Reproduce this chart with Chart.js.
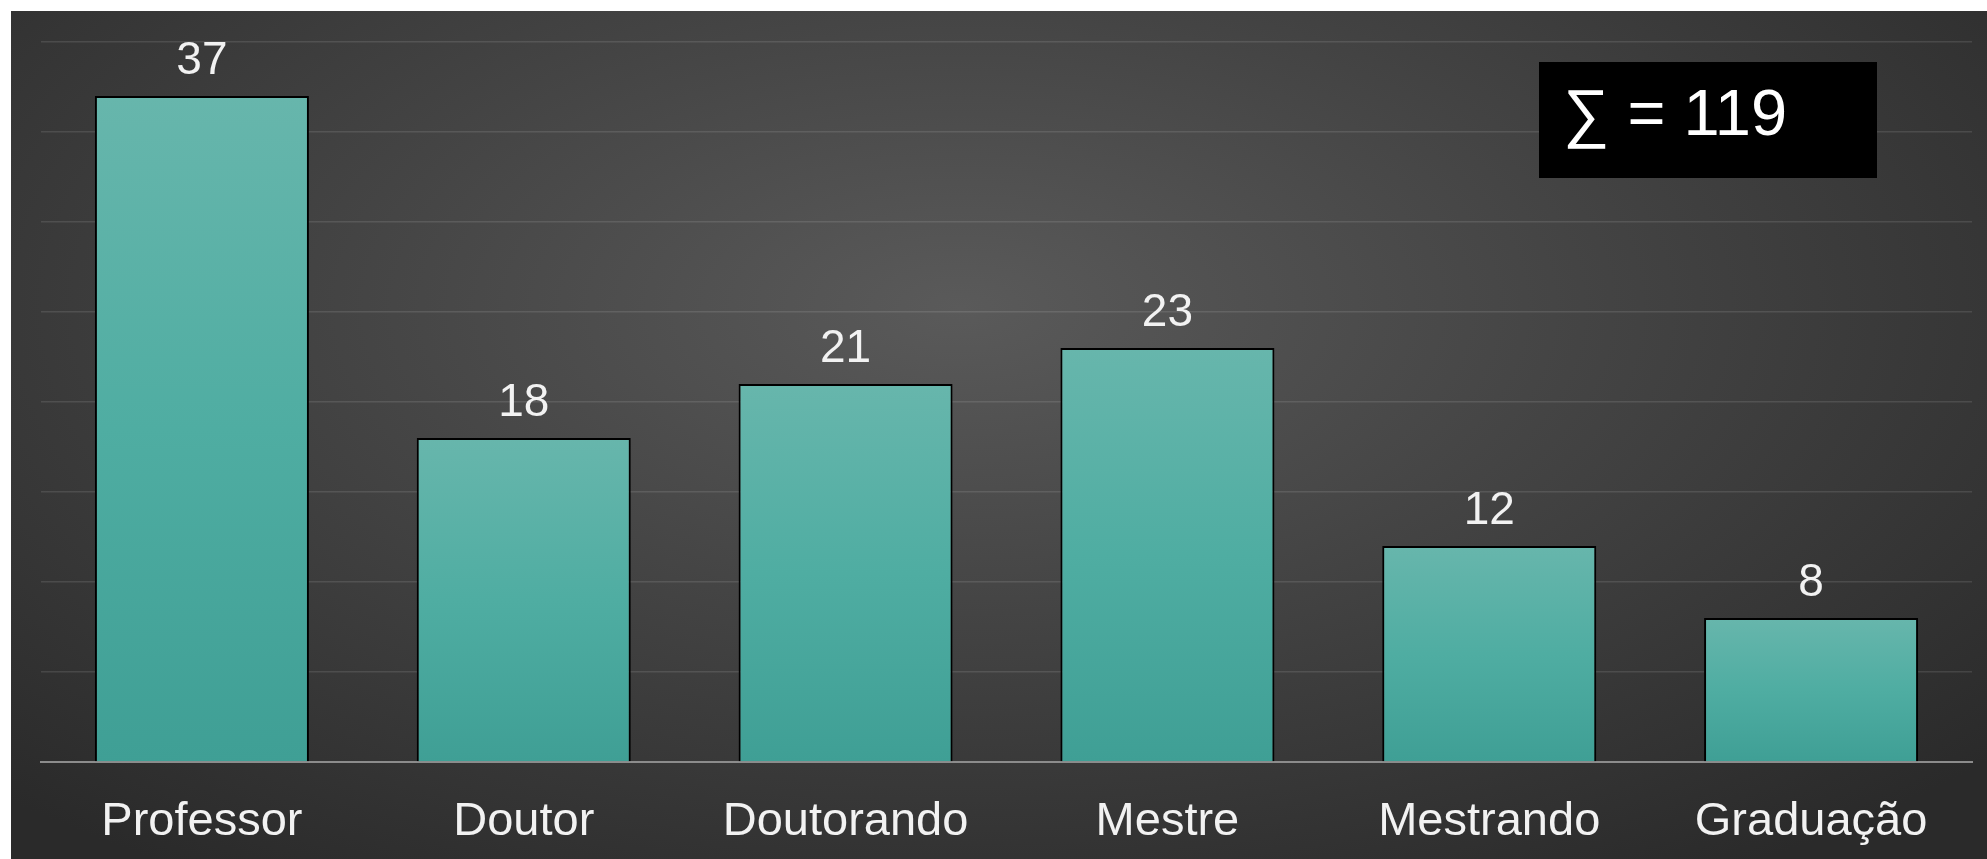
<!DOCTYPE html>
<html>
<head>
<meta charset="utf-8">
<script src="https://cdn.jsdelivr.net/npm/chart.js@4.4.1/dist/chart.umd.min.js"></script>
<style>
    html, body { margin: 0; padding: 0; background: #fff; }
    #wrap {
        position: absolute; left: 11px; top: 11px; width: 1976px; height: 848px;
        background: radial-gradient(ellipse 70% 80% at 48% 35%, #5a5a5a 0%, #444 45%, #2a2a2a 100%);
    }
    #sum {
        position: absolute; left: 1528px; top: 51px; width: 314px; height: 116px;
        padding-left: 24px; background: #000; color: #fff;
        font-family: "Liberation Sans", Arial, sans-serif; font-size: 65px; line-height: 101px;
        white-space: pre;
    }
</style>
</head>
<body>
<div id="wrap">
    <canvas id="chart"></canvas>
    <div id="sum">∑ = 119</div>
</div>
<script>
const categories = ['Professor', 'Doutor', 'Doutorando', 'Mestre', 'Mestrando', 'Graduação'];
const counts = [37, 18, 21, 23, 12, 8];
const yMax = 40;
const yStep = 5;

function barGradient(context) {
    const chart = context.chart;
    const yScale = chart.scales.y;
    if (!yScale || context.raw === undefined) return '#52ada2';
    const top = yScale.getPixelForValue(context.raw);
    const base = yScale.getPixelForValue(0);
    if (!isFinite(top) || !isFinite(base)) return '#52ada2';
    const g = chart.ctx.createLinearGradient(0, top, 0, base);
    g.addColorStop(0, '#67b6ac');
    g.addColorStop(0.5, '#4fada2');
    g.addColorStop(1, '#3f9f95');
    return g;
}

// draws the numbers above the bars
const valueLabels = {
    id: 'valueLabels',
    afterDatasetsDraw(chart) {
        const ctx = chart.ctx;
        const meta = chart.getDatasetMeta(0);
        ctx.save();
        ctx.fillStyle = '#f2f2f2';
        ctx.font = '46px "Liberation Sans", Arial, sans-serif';
        ctx.textAlign = 'center';
        ctx.textBaseline = 'alphabetic';
        meta.data.forEach((bar, i) => {
            ctx.fillText(String(counts[i]), bar.x, bar.y - 22);
        });
        ctx.restore();
    }
};

new Chart(document.getElementById('chart'), {
    type: 'bar',
    data: {
        labels: categories,
        datasets: [{
            data: counts,
            backgroundColor: barGradient,
            borderColor: '#000',
            borderWidth: 2,
            borderSkipped: 'bottom',
            barPercentage: 0.665,
            categoryPercentage: 1
        }]
    },
    options: {
        responsive: true,
        maintainAspectRatio: false,
        animation: false,
        layout: { padding: { left: 30, right: 15, top: 31, bottom: 10 } },
        plugins: {
            legend: { display: false },
            tooltip: { enabled: false }
        },
        scales: {
            x: {
                afterFit(scale) { scale.height = 87; },
                grid: { display: false, drawTicks: false },
                border: { display: true, color: '#8c8c8c', width: 2 },
                ticks: {
                    color: '#f2f2f2',
                    padding: 32,
                    font: { family: '"Liberation Sans", Arial, sans-serif', size: 47 }
                }
            },
            y: {
                min: 0,
                max: yMax,
                ticks: { display: false, stepSize: yStep },
                border: { display: false },
                grid: { color: 'rgba(255,255,255,0.11)', lineWidth: 1.5, drawTicks: false }
            }
        }
    },
    plugins: [valueLabels]
});
</script>
</body>
</html>
